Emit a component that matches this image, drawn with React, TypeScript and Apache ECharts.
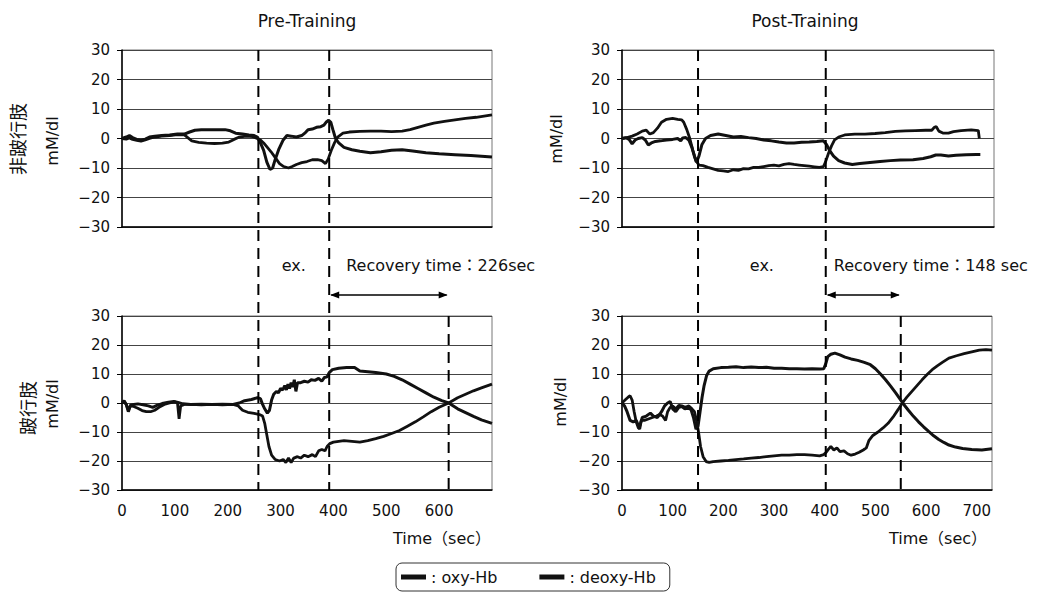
import React, { useEffect, useRef } from 'react';
import * as echarts from 'echarts';

const FONT = '"DejaVu Sans", "Noto Sans CJK JP", sans-serif';

const panelTitles = ['Pre-Training', 'Post-Training'];
const rowLabels = ['非跛行肢', '跛行肢'];
const yUnit = 'mM/dl';
const timeLabel = 'Time（sec）';
const seriesNames = ['oxy-Hb', 'deoxy-Hb'];
const xMaxPre = 700;
const xMaxPost = 730;
const xLabelsPre = [0, 100, 200, 300, 400, 500, 600];
const xLabelsPost = [0, 100, 200, 300, 400, 500, 600, 700];
// exercise start, exercise end, recovery end (sec)
const eventsPre = [258, 392, 618];
const eventsPost = [150, 402, 550];
const recoveryTexts = ['Recovery time：226sec', 'Recovery time：148 sec'];

// Pre-Training, non-claudicating limb
const preNonOxy = [[0,0],[8,-0.2],[14,0.2],[20,-0.3],[28,-0.6],[36,-0.9],[44,-0.5],[52,0],[62,0.5],[75,0.8],[90,1],[105,1.3],[118,1.2],[125,0.2],[132,-0.8],[145,-1.3],[160,-1.6],[175,-1.7],[190,-1.6],[202,-1.2],[212,-0.3],[222,0.5],[235,0.8],[248,0.6],[256,0],[262,-0.5],[268,-1.5],[275,-3],[282,-4.5],[290,-6.5],[298,-8.5],[306,-9.5],[315,-10],[322,-9.5],[330,-8.8],[340,-8.2],[350,-7.8],[360,-7.2],[370,-7.2],[378,-7.5],[385,-8.5],[390,-7],[396,-4],[402,-1.5],[408,0.5],[418,1.8],[430,2.2],[450,2.4],[470,2.5],[490,2.5],[510,2.3],[530,2.5],[545,3],[560,3.8],[575,4.5],[590,5.2],[610,5.8],[630,6.3],[650,6.8],[670,7.2],[700,8]];
const preNonDeoxy = [[0,0],[8,0.5],[14,1],[20,0.3],[28,-0.3],[36,-0.6],[44,-0.2],[52,0.5],[62,0.8],[75,1],[90,1.2],[105,1.5],[118,1.5],[128,2.2],[138,2.8],[150,3],[165,3],[180,3],[195,3],[205,2.6],[215,1.8],[228,1.5],[240,1.2],[250,1],[256,0.5],[262,-1.5],[268,-4],[274,-8],[280,-10.5],[285,-10],[290,-7],[297,-3.5],[305,-0.5],[312,1],[320,0.8],[330,0.5],[340,1],[347,2],[352,3],[360,3.2],[368,3.8],[376,4],[382,4.5],[386,5.5],[391,6.2],[395,5.5],[399,3],[404,0],[410,-1.5],[420,-3],[435,-3.8],[450,-4.3],[470,-4.8],[490,-4.5],[510,-4],[530,-3.8],[550,-4.2],[575,-4.8],[600,-5.2],[630,-5.5],[660,-5.8],[700,-6.3]];

// Post-Training, non-claudicating limb
const postNonOxy = [[0,0],[10,0.3],[20,0.8],[30,1.5],[40,2.5],[48,2.8],[55,1.5],[62,2],[70,3.5],[78,5.5],[88,6.5],[100,6.8],[110,6.5],[118,6.3],[122,5.5],[128,3],[134,0],[140,-4],[146,-7.5],[152,-9],[160,-9.2],[170,-9.8],[180,-10.3],[190,-10.8],[200,-11],[210,-11.2],[220,-10.6],[230,-10.8],[240,-10.2],[250,-10.3],[260,-9.8],[270,-9.8],[280,-9.5],[290,-9.2],[300,-9],[310,-9.3],[320,-8.8],[330,-8.5],[340,-8.8],[350,-9],[360,-9.2],[370,-9.4],[380,-9.6],[390,-9.8],[398,-9.5],[402,-8],[408,-5],[414,-2.5],[420,-0.5],[428,0.5],[440,1.2],[460,1.5],[480,1.5],[500,1.7],[520,2],[540,2.4],[560,2.6],[580,2.7],[600,2.8],[612,2.8],[617,3.8],[621,4],[626,2.5],[635,1.8],[645,1.8],[655,2.3],[670,2.7],[690,2.9],[704,2.7],[706,0]];
const postNonDeoxy = [[0,0],[8,0.3],[14,-0.3],[20,-1.8],[26,-0.5],[32,0],[40,0.3],[46,-0.5],[52,-2.2],[58,-1.5],[66,-1],[76,-0.8],[88,-0.5],[100,-0.3],[110,0],[116,-0.8],[120,0.2],[126,0.3],[132,-0.5],[138,-3],[143,-6],[147,-8],[152,-6],[158,-2],[165,0],[175,1],[190,1.5],[205,1],[220,0.5],[235,0.7],[250,0.3],[265,0],[280,-0.5],[295,-0.8],[310,-1.2],[325,-1.5],[340,-1.5],[355,-1.3],[370,-1.2],[385,-1],[398,-0.8],[404,-2],[410,-4],[418,-6],[428,-7.5],[440,-8.3],[455,-8.8],[470,-8.5],[490,-8.1],[510,-7.8],[530,-7.5],[550,-7.3],[575,-7.2],[595,-6.8],[610,-6.2],[620,-5.6],[630,-5.6],[645,-5.9],[660,-5.7],[680,-5.5],[700,-5.4],[708,-5.4]];

// Pre-Training, claudicating limb
const preClaudOxy = [[0,0],[4,0.5],[8,-0.5],[12,-2.5],[16,-1],[22,-1.2],[30,-1.8],[38,-2.6],[46,-3],[54,-3],[62,-2.5],[70,-1.5],[80,-0.5],[90,0],[100,0.4],[105,0],[108,-5.5],[111,-1],[118,-0.5],[130,-0.5],[150,-0.6],[170,-0.5],[190,-0.6],[210,-0.5],[220,-1],[228,-2.5],[238,-3.2],[250,-3.6],[260,-4],[266,-4.5],[270,-7],[274,-11],[278,-15],[283,-18],[290,-19.5],[298,-20],[305,-19.5],[310,-20.5],[315,-19],[320,-20.5],[325,-19],[332,-18.5],[338,-19],[345,-18],[352,-18.5],[360,-17.8],[366,-18.5],[372,-16.5],[378,-16],[384,-16.5],[388,-15],[393,-14],[400,-13.5],[410,-13.2],[420,-13],[435,-13.2],[450,-13.5],[465,-13],[480,-12.3],[495,-11.5],[510,-10.5],[525,-9.5],[540,-8],[555,-6.5],[570,-4.8],[585,-3],[600,-1.5],[618,0],[635,1.8],[650,3],[665,4.2],[680,5.2],[700,6.5]];
const preClaudDeoxy = [[0,0],[4,0.8],[8,-0.5],[12,-3],[16,-0.8],[22,-0.5],[30,-0.3],[40,-0.6],[50,-1],[58,-1.5],[66,-0.8],[76,-0.2],[88,0.3],[98,0.5],[106,0.2],[115,-0.3],[130,-0.5],[150,-0.4],[170,-0.5],[190,-0.4],[210,-0.5],[222,0],[232,0.8],[245,1.2],[256,1.8],[262,1.5],[266,-0.5],[270,-2],[275,-3.5],[279,-2.5],[283,1],[287,3],[292,4],[296,3.5],[300,5],[304,4.5],[308,6],[311,4.5],[314,6.5],[317,5],[320,7],[323,5.5],[326,8],[329,4],[332,7],[338,7],[345,7.5],[352,7.2],[358,8],[365,7.8],[372,8.5],[378,7.5],[383,8.8],[388,9],[392,10.5],[398,11.5],[410,12],[425,12.2],[440,12.2],[450,11],[465,10.8],[480,10.5],[500,10],[515,9.2],[530,8],[545,6.5],[560,5],[575,3.5],[590,2],[605,0.8],[618,0],[635,-2],[650,-3.3],[665,-4.6],[680,-5.8],[700,-7]];

// Post-Training, claudicating limb
const postClaudOxy = [[0,0],[6,1],[12,2],[16,2.5],[20,1],[24,-3],[28,-6.5],[32,-8.5],[35,-9],[38,-6],[44,-6],[52,-5.5],[60,-5],[68,-4.5],[74,-4],[80,-4.5],[86,-6],[90,-3],[95,-1.5],[100,-1],[106,-2],[112,-0.8],[118,-1],[125,-1.5],[132,-1],[138,-2],[143,-3],[147,-6],[151,-10],[155,-15],[160,-18.5],[166,-20.2],[172,-20.5],[180,-20.2],[195,-20],[210,-19.8],[225,-19.5],[240,-19.3],[255,-19],[270,-18.8],[285,-18.5],[300,-18.2],[315,-18],[330,-18],[345,-17.8],[360,-17.8],[375,-18],[390,-18.2],[398,-17.8],[403,-17],[407,-16],[412,-15],[418,-16.2],[424,-15.5],[430,-16.8],[438,-16.5],[445,-17.5],[452,-18],[460,-17.6],[468,-17],[476,-16.2],[482,-15.5],[487,-13],[495,-11.2],[505,-10],[515,-8.6],[525,-7],[535,-4.8],[545,-2.2],[553,0],[562,2],[572,4],[582,6],[592,8],[602,9.8],[612,11.5],[622,12.8],[632,14],[645,15.5],[660,16.3],[675,17],[690,17.6],[705,18.2],[718,18.4],[730,18.2]];
const postClaudDeoxy = [[0,0],[5,-1],[10,-3],[16,-6],[22,-6.5],[28,-6],[34,-8.5],[40,-5],[48,-4.5],[56,-3.5],[62,-4.5],[70,-5],[78,-3],[84,-1],[90,0],[95,0.5],[100,-2],[106,-3],[112,-1.5],[118,-1.2],[124,-2],[130,-1.8],[136,-2.2],[141,-5],[146,-9],[150,-8],[154,-3],[158,2],[162,6],[167,9.5],[172,11],[180,11.8],[195,12.2],[210,12.3],[225,12.5],[240,12.2],[255,12.4],[270,12.2],[285,12.3],[300,12],[315,12],[330,11.8],[345,11.8],[360,11.7],[375,11.8],[390,11.7],[398,11.8],[402,13.5],[406,16],[412,16.8],[420,17.2],[430,16.6],[440,15.8],[452,15.2],[465,14.7],[478,14],[490,13.2],[500,11.8],[510,10],[520,8],[530,5.8],[540,3.5],[550,1],[556,-0.5],[565,-2.5],[575,-4.6],[585,-6.5],[595,-8.2],[605,-9.8],[615,-11.3],[625,-12.6],[635,-13.6],[645,-14.5],[658,-15.2],[672,-15.7],[690,-16],[710,-16.2],[730,-15.8]];

const panelData = [
  [preNonOxy, preNonDeoxy],
  [postNonOxy, postNonDeoxy],
  [preClaudOxy, preClaudDeoxy],
  [postClaudOxy, postClaudDeoxy],
];

const grids = [
  { left: 122, top: 50, width: 370, height: 177 },
  { left: 622, top: 50, width: 372, height: 177 },
  { left: 122, top: 316, width: 370, height: 174 },
  { left: 622, top: 316, width: 370, height: 174 },
];
const xMaxes = [xMaxPre, 735, xMaxPre, xMaxPost];

const INK = '#111';

export default function App() {
  const ref = useRef<HTMLDivElement>(null);
  useEffect(() => {
    if (!ref.current) return;
    const chart = echarts.init(ref.current, undefined, { renderer: 'svg' });

    const xAxes = grids.map((_, i) => {
      const bottom = i >= 2;
      const labels = i === 2 ? xLabelsPre : xLabelsPost;
      return {
        type: 'value',
        gridIndex: i,
        min: 0,
        max: xMaxes[i],
        interval: 100,
        axisLine: { show: true, onZero: false, lineStyle: { color: '#000', width: 1.5 } },
        axisTick: { show: false },
        splitLine: { show: false },
        axisLabel: {
          show: bottom,
          margin: 13,
          fontFamily: FONT,
          fontSize: 15,
          color: INK,
          showMaxLabel: true,
          formatter: (v: number) => (labels.indexOf(v) >= 0 ? String(v) : ''),
        },
      };
    });
    const yAxes = grids.map((_, i) => ({
      type: 'value',
      gridIndex: i,
      min: -30,
      max: 30,
      interval: 10,
      axisLine: { show: true, lineStyle: { color: '#000', width: 1.5 } },
      axisTick: { show: true, length: 5, lineStyle: { color: '#000' } },
      splitLine: { show: true, lineStyle: { color: '#444', width: 1.2 } },
      axisLabel: {
        margin: 12,
        fontFamily: FONT,
        fontSize: 15,
        color: INK,
        formatter: (v: number) => (v < 0 ? '\u2212' + Math.abs(v) : String(v)),
      },
    }));

    const series: any[] = [];
    panelData.forEach((pair, i) => {
      pair.forEach((d, k) => {
        series.push({
          type: 'line',
          name: seriesNames[k],
          xAxisIndex: i,
          yAxisIndex: i,
          data: d,
          showSymbol: false,
          symbol: 'none',
          smooth: false,
          color: INK,
          lineStyle: { color: INK, width: k === 0 ? 2.8 : 3 },
          z: 5,
        });
      });
    });

    chart.setOption({
      animation: false,
      backgroundColor: '#fff',
      grid: grids.map((g) => ({ ...g, show: true, borderColor: '#777', borderWidth: 1, backgroundColor: 'transparent' })),
      xAxis: xAxes,
      yAxis: yAxes,
      series,
      legend: {
        data: seriesNames.map((n) => ({ name: n, icon: 'rect' })),
        left: 396,
        top: 563,
        itemWidth: 25,
        itemHeight: 5,
        itemGap: 42,
        padding: [6, 14, 6, 5],
        borderColor: '#333',
        borderWidth: 1,
        borderRadius: 6,
        selectedMode: false,
        formatter: (n: string) => ': ' + n,
        textStyle: { fontFamily: FONT, fontSize: 16, color: INK },
      },
    });

    const px = (g: number, x: number, y: number) =>
      chart.convertToPixel({ gridIndex: g } as any, [x, y]) as number[];

    const graphics: any[] = [];
    const textStyle = (text: string, size: number, align = 'center') => ({
      text,
      fill: INK,
      font: `${size}px ${FONT}`,
      align,
      verticalAlign: 'middle',
    });

    [0, 1].forEach((c) => {
      const ev = c === 0 ? eventsPre : eventsPost;
      const topG = c;
      const botG = c + 2;
      const topY = px(topG, 0, 30)[1];
      const botTopY = px(botG, 0, 30)[1];
      const botY = px(botG, 0, -30)[1];
      const xs = ev.map((t) => px(botG, t, 0)[0]);
      const dash = { stroke: '#000', lineWidth: 2, lineDash: [11, 7] };
      graphics.push({ type: 'line', shape: { x1: xs[0], y1: topY, x2: xs[0], y2: botY }, style: dash, z: 10 });
      graphics.push({ type: 'line', shape: { x1: xs[1], y1: topY, x2: xs[1], y2: botY }, style: dash, z: 10 });
      graphics.push({ type: 'line', shape: { x1: xs[2], y1: botTopY, x2: xs[2], y2: botY }, style: dash, z: 10 });

      // recovery arrow
      const ay = botTopY - 21;
      graphics.push({ type: 'line', shape: { x1: xs[1] + 2, y1: ay, x2: xs[2] - 2, y2: ay }, style: { stroke: '#000', lineWidth: 1.5 }, z: 10 });
      graphics.push({ type: 'polygon', shape: { points: [[xs[1] + 1, ay], [xs[1] + 10, ay - 3.5], [xs[1] + 10, ay + 3.5]] }, style: { fill: '#000' }, z: 10 });
      graphics.push({ type: 'polygon', shape: { points: [[xs[2] - 1, ay], [xs[2] - 10, ay - 3.5], [xs[2] - 10, ay + 3.5]] }, style: { fill: '#000' }, z: 10 });

      // labels
      const ty = botTopY - 51;
      graphics.push({ type: 'text', x: (xs[0] + xs[1]) / 2, y: ty, style: textStyle('ex.', 16) });
      graphics.push({ type: 'text', x: xs[1] + (c === 0 ? 17 : 8), y: ty, style: textStyle(recoveryTexts[c], 16, 'left') });

      // titles
      const g = grids[topG];
      graphics.push({ type: 'text', x: g.left + g.width / 2 - (c === 1 ? 3 : 0), y: 21, style: textStyle(panelTitles[c], 17) });

      // time label
      graphics.push({ type: 'text', x: c === 0 ? 442 : 938, y: 538, style: textStyle(timeLabel, 16) });
    });

    // y labels
    graphics.push({ type: 'text', x: 18, y: 139, rotation: Math.PI / 2, style: textStyle(rowLabels[0], 18) });
    graphics.push({ type: 'text', x: 52, y: 141, rotation: Math.PI / 2, style: textStyle(yUnit, 16) });
    graphics.push({ type: 'text', x: 28, y: 408, rotation: Math.PI / 2, style: textStyle(rowLabels[1], 18) });
    graphics.push({ type: 'text', x: 52, y: 404, rotation: Math.PI / 2, style: textStyle(yUnit, 16) });
    graphics.push({ type: 'text', x: 556, y: 139, rotation: Math.PI / 2, style: textStyle(yUnit, 16) });
    graphics.push({ type: 'text', x: 560, y: 402, rotation: Math.PI / 2, style: textStyle(yUnit, 16) });

    chart.setOption({ graphic: graphics });

    return () => chart.dispose();
  }, []);

  return (
    <div
      ref={ref}
      style={{ position: 'absolute', left: 0, top: 0, width: 1041, height: 596, background: '#fff' }}
    />
  );
}
